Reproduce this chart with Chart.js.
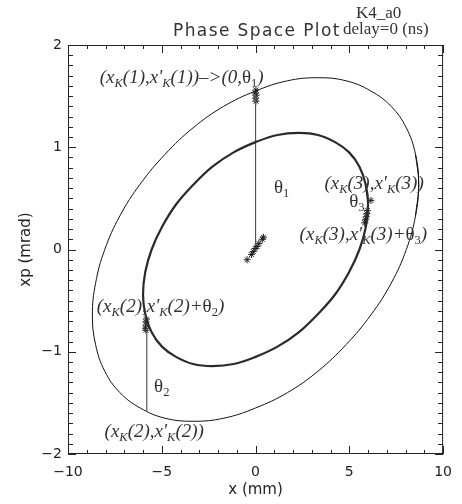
<!DOCTYPE html>
<html>
<head>
<meta charset="utf-8">
<script src="https://cdn.jsdelivr.net/npm/chart.js@4"></script>
<style>
  body { margin: 0; background: #fff; }
  canvas { display: block; }
</style>
</head>
<body>
<canvas id="phase" width="462" height="504"></canvas>
<script>
// axis ticks
const xTicks = [-10, -5, 0, 5, 10];
const yTicks = [-2, -1, 0, 1, 2];

// outer ellipse
const outerX = [8.70, 8.53, 8.04, 7.23, 6.15, 4.83, 3.33, 1.70, 0, -1.70, -3.33, -4.83, -6.15, -7.23, -8.04, -8.53,
                -8.70, -8.53, -8.04, -7.23, -6.15, -4.83, -3.33, -1.70, 0, 1.70, 3.33, 4.83, 6.15, 7.23, 8.04, 8.53];
const outerY = [0.64, 0.93, 1.19, 1.40, 1.55, 1.65, 1.68, 1.65, 1.55, 1.40, 1.19, 0.93, 0.64, 0.33, 0, -0.33,
                -0.64, -0.93, -1.19, -1.40, -1.55, -1.65, -1.68, -1.65, -1.55, -1.40, -1.19, -0.93, -0.64, -0.33, 0, 0.33];

// inner (thick) ellipse
const innerX = [6.00, 5.88, 5.54, 4.99, 4.24, 3.33, 2.30, 1.17, 0, -1.17, -2.30, -3.33, -4.24, -4.99, -5.54, -5.88,
                -6.00, -5.88, -5.54, -4.99, -4.24, -3.33, -2.30, -1.17, 0, 1.17, 2.30, 3.33, 4.24, 4.99, 5.54, 5.88];
const innerY = [0.44, 0.63, 0.81, 0.95, 1.05, 1.12, 1.14, 1.12, 1.05, 0.95, 0.81, 0.63, 0.44, 0.22, 0, -0.22,
                -0.44, -0.63, -0.81, -0.95, -1.05, -1.12, -1.14, -1.12, -1.05, -0.95, -0.81, -0.63, -0.44, -0.22, 0, 0.22];

// kicks (vertical lines)
const theta1X = [0, 0];
const theta1Y = [1.52, 0.04];
const theta2X = [-5.8, -5.8];
const theta2Y = [-0.74, -1.58];

// particle positions (* markers)
const starX = [0.02, 0.0, 0.03, -0.01, 0.02, -5.82, -5.85, -5.83, -5.87, -5.84, 5.82, 5.86, 5.90, 5.93, 5.96, 6.15,
               -0.45, -0.22, -0.12, -0.02, 0.08, 0.18, 0.36, 0.42];
const starY = [1.45, 1.48, 1.51, 1.53, 1.56, -0.68, -0.71, -0.74, -0.77, -0.79, 0.26, 0.29, 0.32, 0.35, 0.38, 0.48,
               -0.10, -0.05, -0.02, 0.01, 0.03, 0.06, 0.10, 0.12];

function pts(xs, ys) {
	return xs.map((x, i) => ({ x: x, y: ys[i] }));
}
// closed curve: repeat neighbours so the spline is smooth at the seam
function loop(xs, ys) {
	let p = pts(xs, ys);
	return [p[p.length - 1]].concat(p, [p[0], p[1]]);
}

const SERIF = "'Liberation Serif', 'Times New Roman', serif";
const SANS = "'DejaVu Sans', sans-serif";
const INK = '#222';

// text with subscripts: [text, flags] flags: s = subscript, u = upright
function drawRich(ctx, parts, x, y, size) {
	parts.forEach(function(p) {
		let sub = p[1].indexOf('s') >= 0;
		let up = p[1].indexOf('u') >= 0;
		let fs = sub ? size * 0.66 : size;
		ctx.font = (up ? '' : 'italic ') + fs + 'px ' + SERIF;
		ctx.fillText(p[0], x, y + (sub ? size * 0.22 : 0));
		x += ctx.measureText(p[0]).width;
	});
}

const labels = [
	{ x: -8.31, y: 1.628, parts: [['(x', ''], ['K', 's'], ["(1),x'", ''], ['K', 's'], ['(1))\u2013>(0,', ''], ['\u03b8', 'u'], ['1', 'us'], [')', '']] },
	{ x: 3.67, y: 0.592, parts: [['(x', ''], ['K', 's'], ["(3),x'", ''], ['K', 's'], ['(3))', '']] },
	{ x: 4.99, y: 0.416, parts: [['\u03b8', 'u'], ['3', 'us']] },
	{ x: 2.35, y: 0.093, parts: [['(x', ''], ['K', 's'], ["(3),x'", ''], ['K', 's'], ['(3)+', ''], ['\u03b8', 'u'], ['3', 'us'], [')', '']] },
	{ x: 0.98, y: 0.553, parts: [['\u03b8', 'u'], ['1', 'us']] },
	{ x: -8.47, y: -0.611, parts: [['(x', ''], ['K', 's'], ["(2),x'", ''], ['K', 's'], ['(2)+', ''], ['\u03b8', 'u'], ['2', 'us'], [')', '']] },
	{ x: -5.41, y: -1.394, parts: [['\u03b8', 'u'], ['2', 'us']] },
	{ x: -8.05, y: -1.834, parts: [['(x', ''], ['K', 's'], ["(2),x'", ''], ['K', 's'], ['(2))', '']] }
];

// frame with inward ticks on all four sides + annotations
const framePlugin = {
	id: 'frame',
	afterDatasetsDraw(chart) {
		const ctx = chart.ctx;
		const a = chart.chartArea;
		const sx = chart.scales.x, sy = chart.scales.y;
		ctx.save();
		ctx.strokeStyle = INK;
		ctx.lineWidth = 1;
		ctx.strokeRect(a.left + 0.5, a.top + 0.5, a.right - a.left - 1, a.bottom - a.top - 1);
		ctx.beginPath();
		for (let i = -10; i <= 10; i++) {
			let px = Math.round(sx.getPixelForValue(i)) + 0.5;
			let len = (i % 5 === 0) ? 8 : 4;
			ctx.moveTo(px, a.bottom); ctx.lineTo(px, a.bottom - len);
			ctx.moveTo(px, a.top); ctx.lineTo(px, a.top + len);
		}
		for (let j = -20; j <= 20; j++) {
			let py = Math.round(sy.getPixelForValue(j / 10)) + 0.5;
			let len = (j % 10 === 0) ? 8 : 5;
			ctx.moveTo(a.left, py); ctx.lineTo(a.left + len, py);
			ctx.moveTo(a.right, py); ctx.lineTo(a.right - len, py);
		}
		ctx.stroke();

		ctx.fillStyle = '#333';
		ctx.textBaseline = 'alphabetic';
		ctx.textAlign = 'left';
		labels.forEach(function(l) {
			drawRich(ctx, l.parts, sx.getPixelForValue(l.x), sy.getPixelForValue(l.y), 19);
		});

		// headings
		ctx.fillStyle = '#333';
		ctx.font = '17px ' + SANS;
		ctx.letterSpacing = '1.4px';
		ctx.fillText('Phase Space Plot', 173, 36);
		ctx.letterSpacing = '0px';
		ctx.font = '17px ' + SERIF;
		ctx.fillText('K4_a0', 356, 18);
		ctx.fillText('delay=0 (ns)', 343, 34);
		ctx.restore();
	}
};

const fmt = v => (v < 0 ? '\u2212' + Math.abs(v) : String(v));

new Chart(document.getElementById('phase'), {
	type: 'scatter',
	data: {
		datasets: [
			{ data: loop(outerX, outerY), showLine: true, tension: 0.4, borderColor: '#111', borderWidth: 1, pointRadius: 0 },
			{ data: loop(innerX, innerY), showLine: true, tension: 0.4, borderColor: '#2a2a2a', borderWidth: 2.2, pointRadius: 0 },
			{ data: pts(theta1X, theta1Y), showLine: true, borderColor: '#555', borderWidth: 1.2, pointRadius: 0 },
			{ data: pts(theta2X, theta2Y), showLine: true, borderColor: '#555', borderWidth: 1.2, pointRadius: 0 },
			{ data: pts(starX, starY), showLine: false, pointStyle: 'star', pointRadius: 3.5, borderColor: '#222', borderWidth: 1, backgroundColor: '#222' }
		]
	},
	options: {
		responsive: false,
		animation: false,
		events: [],
		layout: { padding: { top: 45, right: 15, left: 0, bottom: 0 } },
		plugins: { legend: { display: false }, tooltip: { enabled: false } },
		scales: {
			x: {
				type: 'linear', min: -10, max: 10,
				grid: { display: false, drawTicks: false },
				border: { display: false },
				afterBuildTicks: ax => { ax.ticks = xTicks.map(v => ({ value: v })); },
				afterFit: ax => { ax.height = 50; },
				ticks: { padding: 10, maxRotation: 0, autoSkip: false, color: INK, font: { family: SANS, size: 14 }, callback: fmt },
				title: { display: true, text: 'x (mm)', color: INK, font: { family: SANS, size: 15 }, padding: { top: 0, bottom: 5 } }
			},
			y: {
				type: 'linear', min: -2, max: 2,
				grid: { display: false, drawTicks: false },
				border: { display: false },
				afterBuildTicks: ax => { ax.ticks = yTicks.map(v => ({ value: v })); },
				afterFit: ax => { ax.width = 68; },
				ticks: { padding: 6, autoSkip: false, color: INK, font: { family: SANS, size: 14 }, callback: fmt },
				title: { display: true, text: 'xp (mrad)', color: INK, font: { family: SANS, size: 15 }, padding: { top: 17, bottom: 0 } }
			}
		}
	},
	plugins: [framePlugin]
});
</script>
</body>
</html>
